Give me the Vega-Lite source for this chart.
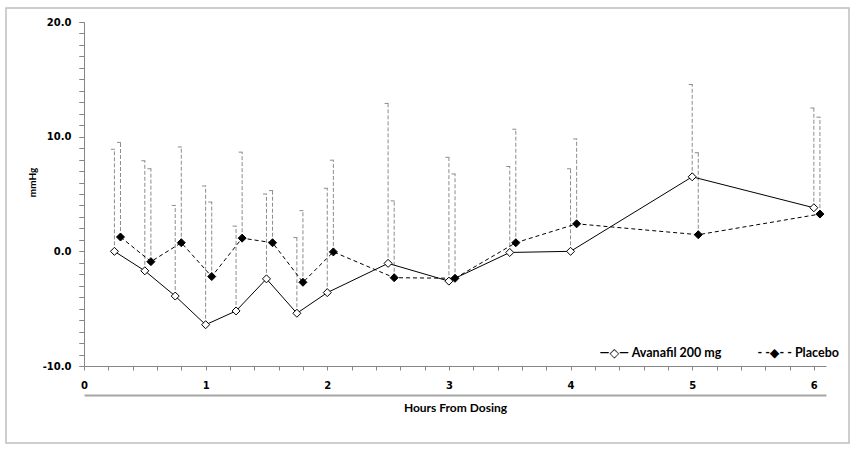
{
  "$schema": "https://vega.github.io/schema/vega-lite/v6.json",
  "autosize": "none",
  "width": 843,
  "height": 435,
  "padding": {"left": 6, "top": 8, "right": 9, "bottom": 9},
  "background": "white",
  "config": {
    "view": {"stroke": "#bfbfbf", "strokeWidth": 1.5},
    "axis": {"labelFont": "DejaVu Sans", "labelFontWeight": "bold", "labelFontSize": 10, "labelColor": "#000000", "titleFont": "Lato", "titleFontWeight": "bold", "titleColor": "#000000", "domainColor": "#868686", "tickColor": "#868686", "grid": false}
  },
  "data": {"values": [
    {"series": "Avanafil 200 mg", "x": 0.25, "y": 0.0, "top": 8.9},
    {"series": "Avanafil 200 mg", "x": 0.5, "y": -1.7, "top": 7.9},
    {"series": "Avanafil 200 mg", "x": 0.75, "y": -3.9, "top": 4.0},
    {"series": "Avanafil 200 mg", "x": 1.0, "y": -6.4, "top": 5.7},
    {"series": "Avanafil 200 mg", "x": 1.25, "y": -5.2, "top": 2.2},
    {"series": "Avanafil 200 mg", "x": 1.5, "y": -2.4, "top": 5.0},
    {"series": "Avanafil 200 mg", "x": 1.75, "y": -5.4, "top": 1.2},
    {"series": "Avanafil 200 mg", "x": 2.0, "y": -3.6, "top": 5.5},
    {"series": "Avanafil 200 mg", "x": 2.5, "y": -1.05, "top": 12.9},
    {"series": "Avanafil 200 mg", "x": 3.0, "y": -2.6, "top": 8.2},
    {"series": "Avanafil 200 mg", "x": 3.5, "y": -0.1, "top": 7.4},
    {"series": "Avanafil 200 mg", "x": 4.0, "y": 0.0, "top": 7.2},
    {"series": "Avanafil 200 mg", "x": 5.0, "y": 6.5, "top": 14.55},
    {"series": "Avanafil 200 mg", "x": 6.0, "y": 3.8, "top": 12.5},
    {"series": "Placebo", "x": 0.3, "y": 1.25, "top": 9.5},
    {"series": "Placebo", "x": 0.55, "y": -0.9, "top": 7.2},
    {"series": "Placebo", "x": 0.8, "y": 0.75, "top": 9.1},
    {"series": "Placebo", "x": 1.05, "y": -2.2, "top": 4.3},
    {"series": "Placebo", "x": 1.3, "y": 1.15, "top": 8.65},
    {"series": "Placebo", "x": 1.55, "y": 0.75, "top": 5.3},
    {"series": "Placebo", "x": 1.8, "y": -2.7, "top": 3.55},
    {"series": "Placebo", "x": 2.05, "y": -0.05, "top": 7.95},
    {"series": "Placebo", "x": 2.55, "y": -2.3, "top": 4.4},
    {"series": "Placebo", "x": 3.05, "y": -2.35, "top": 6.75},
    {"series": "Placebo", "x": 3.55, "y": 0.75, "top": 10.65},
    {"series": "Placebo", "x": 4.05, "y": 2.4, "top": 9.8},
    {"series": "Placebo", "x": 5.05, "y": 1.45, "top": 8.6},
    {"series": "Placebo", "x": 6.05, "y": 3.25, "top": 11.7}
  ]},
  "resolve": {"axis": {"x": "independent", "y": "independent"}},
  "layer": [
    {
      "mark": {"type": "rule", "color": "#8c8c8c", "strokeWidth": 1, "strokeDash": [4, 2]},
      "encoding": {
        "x": {"field": "x", "type": "quantitative",
          "scale": {"domain": [0, 6.1], "range": [78, 820], "nice": false, "zero": false},
          "axis": {"orient": "bottom", "offset": -77, "values": [0,0.2,0.4,0.6,0.8,1,1.2,1.4,1.6,1.8,2,2.2,2.4,2.6,2.8,3,3.2,3.4,3.6,3.8,4,4.2,4.4,4.6,4.8,5,5.2,5.4,5.6,5.8,6],
            "labelExpr": "abs(datum.value - round(datum.value)) < 0.01 ? format(round(datum.value), 'd') : ''",
            "ticks": true, "tickSize": 4, "tickWidth": 1, "tickOpacity": 1, "labelPadding": 10, "labelFlush": false, "labelOverlap": false,
            "title": "Hours From Dosing", "titleFontSize": 12, "titleX": 449, "titleY": 41, "titleBaseline": "middle", "titleAlign": "center"}},
        "y": {"field": "y", "type": "quantitative",
          "scale": {"domain": [-10, 20], "range": [358, 14], "nice": false, "zero": false},
          "axis": {"orient": "left", "offset": -78, "values": [-10,-9,-8,-7,-6,-5,-4,-3,-2,-1,0,1,2,3,4,5,6,7,8,9,10,11,12,13,14,15,16,17,18,19,20],
            "labelExpr": "datum.value % 10 === 0 ? (datum.value < 0 ? '-' : '') + format(abs(datum.value), '.1f') : ''",
            "ticks": true, "tickSize": 5, "tickWidth": 1, "tickOpacity": 1, "tickColor": "#868686", "labelPadding": 8, "labelFlush": false, "labelOverlap": false,
            "title": "mmHg", "titleFontSize": 10, "titleAngle": -90, "titleX": -52, "titleY": 174, "titleBaseline": "middle", "titleAlign": "center"}},
        "y2": {"field": "top"}
      }
    },
    {
      "mark": {"type": "tick", "orient": "horizontal", "color": "#8c8c8c", "size": 4, "thickness": 1, "xOffset": -1.5, "opacity": 1},
      "encoding": {
        "x": {"field": "x", "type": "quantitative",
          "axis": {"orient": "bottom", "offset": -48, "ticks": false, "labels": false, "title": null, "domainColor": "#a6a6a6", "domainWidth": 2}},
        "y": {"field": "top", "type": "quantitative",
          "axis": {"orient": "left", "offset": -78, "domain": false, "labels": false, "title": null, "ticks": true, "tickSize": 5, "tickWidth": 1, "tickColor": "#868686",
            "values": [-10,-9,-8,-7,-6,-5,-4,-3,-2,-1,0,1,2,3,4,5,6,7,8,9,10,11,12,13,14,15,16,17,18,19,20]}}
      }
    },
    {
      "transform": [{"filter": "datum.series === 'Avanafil 200 mg'"}],
      "mark": {"type": "line", "color": "#000000", "strokeWidth": 1},
      "encoding": {
        "x": {"field": "x", "type": "quantitative", "axis": null},
        "y": {"field": "y", "type": "quantitative", "axis": null}
      }
    },
    {
      "transform": [{"filter": "datum.series === 'Placebo'"}],
      "mark": {"type": "line", "color": "#000000", "strokeWidth": 1, "strokeDash": [4, 3]},
      "encoding": {
        "x": {"field": "x", "type": "quantitative", "axis": null},
        "y": {"field": "y", "type": "quantitative", "axis": null}
      }
    },
    {
      "transform": [{"filter": "datum.series === 'Avanafil 200 mg'"}],
      "mark": {"type": "point", "shape": "diamond", "size": 64, "stroke": "#000000", "strokeWidth": 1, "fill": "#ffffff", "opacity": 1},
      "encoding": {
        "x": {"field": "x", "type": "quantitative", "axis": null},
        "y": {"field": "y", "type": "quantitative", "axis": null}
      }
    },
    {
      "transform": [{"filter": "datum.series === 'Placebo'"}],
      "mark": {"type": "point", "shape": "diamond", "size": 64, "stroke": "#000000", "strokeWidth": 1, "fill": "#000000", "opacity": 1},
      "encoding": {
        "x": {"field": "x", "type": "quantitative", "axis": null},
        "y": {"field": "y", "type": "quantitative", "axis": null}
      }
    },
    {
      "transform": [{"filter": "false"}],
      "mark": {"type": "point", "size": 10, "filled": true, "opacity": 1},
      "encoding": {
        "fill": {"field": "series", "type": "nominal",
          "scale": {"domain": ["Avanafil 200 mg", "Placebo"], "range": ["#ffffff", "#000000"]},
          "legend": {"orient": "none", "legendX": 581, "legendY": 339, "direction": "horizontal", "columns": 2, "title": null, "padding": 0,
            "labelFont": "Lato, DejaVu Sans", "labelFontWeight": "bold", "labelFontSize": 12.5, "labelColor": "#000000", "labelOffset": 0, "columnPadding": 20,
            "symbolSize": 0, "symbolOpacity": 0, "symbolStrokeWidth": 0,
            "labelExpr": "datum.label === 'Placebo' ? '- -◆- -  Placebo' : '—◇—  Avanafil 200 mg'"}}
      }
    }
  ]
}
